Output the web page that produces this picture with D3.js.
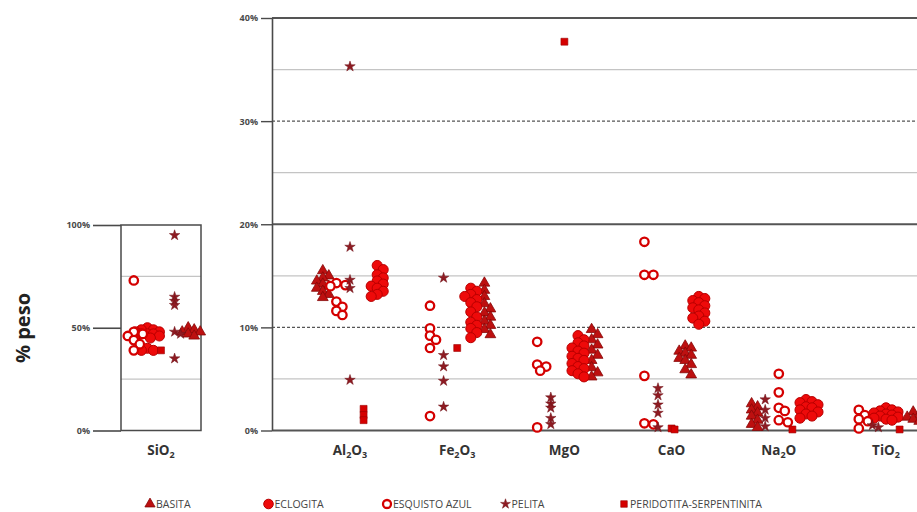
<!DOCTYPE html>
<html>
<head>
<meta charset="utf-8">
<script src="https://cdn.jsdelivr.net/npm/d3@7"></script>
<style>
  body { margin: 0; background: #fff; }
  svg { display: block; font-family: "Open Sans", sans-serif; }
</style>
</head>
<body>
<div id="chart"></div>
<script>
// --- DATA ---
const oxides = ["SiO2", "Al2O3", "Fe2O3", "MgO", "CaO", "Na2O", "TiO2"];
const rockTypes = ["BASITA", "ECLOGITA", "ESQUISTO AZUL", "PELITA", "PERIDOTITA-SERPENTINITA"];

// % peso per oxide (same order as oxides)
const basita = [
  [50, 49, 48, 48, 47, 46],
  [15.5, 15.0, 14.8, 14.5, 14.2, 14.0, 13.8, 13.5, 13.2, 12.9],
  [14.3, 13.6, 13.0, 12.3, 11.8, 11.4, 11.0, 10.6, 10.2, 9.8, 9.3],
  [9.8, 9.3, 8.8, 8.3, 7.8, 7.3, 6.8, 6.1, 5.6, 5.2],
  [8.2, 8.0, 7.7, 7.5, 7.3, 7.0, 6.8, 6.4, 5.9, 5.4],
  [2.6, 2.3, 2.0, 1.7, 1.4, 1.0, 0.6, 0.3],
  [1.8, 1.5, 1.3, 1.1, 0.9]
];
const eclogita = [
  [50, 49, 49, 48, 48, 47, 47, 47, 46, 46, 45, 40, 39, 39],
  [16.0, 15.6, 15.1, 14.8, 14.5, 14.2, 14.0, 13.8, 13.5, 13.2, 13.0],
  [13.8, 13.5, 13.2, 13.0, 12.7, 12.4, 12.0, 11.5, 11.0, 10.5, 10.2, 9.9, 9.5, 9.0],
  [9.2, 8.8, 8.5, 8.2, 8.0, 7.7, 7.5, 7.2, 7.0, 6.8, 6.5, 6.2, 6.0, 5.8, 5.5, 5.2],
  [13.0, 12.8, 12.6, 12.4, 12.1, 11.9, 11.7, 11.4, 11.1, 10.9, 10.6, 10.3],
  [3.0, 2.8, 2.7, 2.5, 2.3, 2.2, 2.0, 1.8, 1.6, 1.4, 1.2],
  [2.2, 2.0, 1.9, 1.8, 1.7, 1.6, 1.5, 1.4, 1.3, 1.2, 1.1, 1.0]
];
const esquistoAzul = [
  [73, 48, 47, 46, 44, 42, 39],
  [14.3, 14.0, 14.1, 12.5, 12.0, 11.6, 11.2],
  [12.1, 9.9, 9.2, 8.8, 8.0, 1.4],
  [8.6, 6.4, 6.2, 5.8, 0.3],
  [18.3, 15.1, 15.1, 5.3, 0.7, 0.6],
  [5.5, 3.7, 2.2, 1.9, 1.0, 0.8],
  [2.0, 1.5, 1.1, 0.9, 0.2]
];
const pelita = [
  [95, 65, 63, 61, 48, 47, 35],
  [35.3, 17.8, 14.6, 13.8, 4.9],
  [14.8, 7.3, 6.2, 4.8, 2.3],
  [3.2, 2.6, 2.2, 1.2, 0.6],
  [4.1, 3.4, 2.5, 1.7, 0.3],
  [3.0, 2.0, 1.2, 0.4],
  [0.5, 0.3]
];
const peridotita = [
  [39],
  [2.1, 1.5, 1.0],
  [8.0],
  [37.7],
  [0.2, 0.1],
  [0.1],
  [0.1]
];

// left-to-right order of the rock types inside each oxide column
const typeOrder = [
  ["ESQUISTO AZUL", "ECLOGITA", "PERIDOTITA-SERPENTINITA", "PELITA", "BASITA"],
  ["BASITA", "ESQUISTO AZUL", "PELITA", "PERIDOTITA-SERPENTINITA", "ECLOGITA"],
  ["ESQUISTO AZUL", "PELITA", "PERIDOTITA-SERPENTINITA", "ECLOGITA", "BASITA"],
  ["ESQUISTO AZUL", "PELITA", "PERIDOTITA-SERPENTINITA", "ECLOGITA", "BASITA"],
  ["ESQUISTO AZUL", "PELITA", "PERIDOTITA-SERPENTINITA", "BASITA", "ECLOGITA"],
  ["BASITA", "PELITA", "ESQUISTO AZUL", "PERIDOTITA-SERPENTINITA", "ECLOGITA"],
  ["ESQUISTO AZUL", "PELITA", "ECLOGITA", "PERIDOTITA-SERPENTINITA", "BASITA"]
];

const leftTicks = [0, 50, 100];
const leftGrid = [25, 75];
const rightTicks = [0, 10, 20, 30, 40];
const rightGrid = [0, 5, 10, 15, 20, 25, 30, 35, 40];

const seriesValues = {
  "BASITA": basita,
  "ECLOGITA": eclogita,
  "ESQUISTO AZUL": esquistoAzul,
  "PELITA": pelita,
  "PERIDOTITA-SERPENTINITA": peridotita
};

// --- SETUP ---
const width = 917, height = 512;
const svg = d3.select("#chart").append("svg")
  .attr("width", width)
  .attr("height", height);

const yL = d3.scaleLinear().domain([0, 100]).range([430.5, 225]);
const yR = d3.scaleLinear().domain([0, 40]).range([430.5, 18]);
const xL = d3.scalePoint().domain(oxides.slice(0, 1)).range([121, 201]);
const xR = d3.scalePoint().domain(oxides.slice(1)).range([350, 886]);

const markerStyle = {
  "BASITA":                  { sym: d3.symbolTriangle, size: 50, fill: "#bd1010", stroke: "#850808", sw: 0.8, gap: 6 },
  "ECLOGITA":                { sym: d3.symbolCircle,   size: 80, fill: "#ee0a0a", stroke: "#b80000", sw: 1,   gap: 6 },
  "ESQUISTO AZUL":           { sym: d3.symbolCircle,   size: 56, fill: "#ffffff", stroke: "#d40000", sw: 2.3, gap: 6.5 },
  "PELITA":                  { sym: d3.symbolStar,     size: 34, fill: "#8e1b22", stroke: "#6e1016", sw: 0.5, gap: 4 },
  "PERIDOTITA-SERPENTINITA": { sym: d3.symbolSquare,   size: 48, fill: "#d50000", stroke: "#9a0000", sw: 0.6, gap: 2 }
};

// --- LEFT PANEL (SiO2) ---
const left = svg.append("g");
left.selectAll("line.grid")
  .data(leftGrid)
  .join("line")
  .attr("class", "grid")
  .attr("x1", 121).attr("x2", 201)
  .attr("y1", d => yL(d)).attr("y2", d => yL(d))
  .attr("stroke", "#c4c4c4").attr("stroke-width", 1.2);

const axL = left.append("g")
  .attr("transform", "translate(121,0)")
  .call(d3.axisLeft(yL).tickValues(leftTicks).tickSize(28).tickFormat(d => d + "%"));
axL.select(".domain").remove();
axL.selectAll(".tick line").attr("stroke", "#4a4a4a").attr("stroke-width", 1.6);
axL.selectAll(".tick text").attr("font-size", 9).attr("font-weight", 700).attr("fill", "#4a4a4a")
  .attr("font-family", "'Open Sans', sans-serif");

left.append("rect")
  .attr("x", 121).attr("y", yL(100))
  .attr("width", 80).attr("height", yL(0) - yL(100))
  .attr("fill", "none").attr("stroke", "#4a4a4a").attr("stroke-width", 1.5);

// --- RIGHT PANEL ---
const right = svg.append("g");
right.selectAll("line.grid")
  .data(rightGrid)
  .join("line")
  .attr("class", "grid")
  .attr("x1", 272).attr("x2", width)
  .attr("y1", d => yR(d)).attr("y2", d => yR(d))
  .attr("stroke", d => d % 10 === 0 ? "#555" : "#c4c4c4")
  .attr("stroke-width", d => d % 20 === 0 ? 2 : d % 10 === 0 ? 1.2 : 1.3)
  .attr("stroke-dasharray", d => (d % 10 === 0 && d % 20 !== 0) ? "3,2" : null);

const axR = right.append("g")
  .attr("transform", "translate(272,0)")
  .call(d3.axisLeft(yR).tickValues(rightTicks).tickSize(11).tickSizeOuter(0).tickFormat(d => d + "%"));
axR.select(".domain").attr("stroke", "#4a4a4a").attr("stroke-width", 1.6);
axR.selectAll(".tick line").attr("stroke", "#4a4a4a").attr("stroke-width", 1.4);
axR.selectAll(".tick text").attr("font-size", 9).attr("font-weight", 700).attr("fill", "#4a4a4a")
  .attr("font-family", "'Open Sans', sans-serif");

// --- CATEGORY LABELS ---
function chemLabel(sel, name) {
  const parts = name.match(/[A-Za-z]+|\d+/g);
  let inSub = false;
  parts.forEach(p => {
    const isNum = /\d/.test(p);
    const ts = sel.append("tspan").text(p);
    if (isNum) {
      ts.attr("font-size", 9).attr("dy", 3);
      inSub = true;
    } else if (inSub) {
      ts.attr("dy", -3);
      inSub = false;
    }
  });
}
const catPos = oxides.map((o, i) => i === 0 ? xL(o) : xR(o));
oxides.forEach((o, i) => {
  const t = svg.append("text")
    .attr("x", catPos[i]).attr("y", 455)
    .attr("text-anchor", "middle")
    .attr("font-size", 13.5).attr("font-weight", 700).attr("fill", "#333");
  chemLabel(t, o);
});

// y title
svg.append("text")
  .attr("transform", "translate(30,328) rotate(-90)")
  .attr("text-anchor", "middle")
  .attr("font-size", 20).attr("font-weight", 700).attr("fill", "#222")
  .text("% peso");

// --- POINTS ---
function swarm(vals, cx, yScale, gap) {
  const pts = vals.map(v => ({ v, y: yScale(v) })).sort((a, b) => a.y - b.y);
  const placed = [];
  const offsets = [0];
  for (let k = 1; k <= 4; k++) offsets.push(k * 3, -k * 3);
  pts.forEach(p => {
    let best = 0, bestD = -1;
    for (const dx of offsets) {
      const dmin = placed.length ? d3.min(placed, q => Math.hypot(q.x - (cx + dx), q.y - p.y)) : Infinity;
      if (dmin >= gap) { best = dx; break; }
      if (dmin > bestD) { bestD = dmin; best = dx; }
    }
    p.x = cx + best;
    placed.push(p);
  });
  return pts;
}

const points = [];
oxides.forEach((o, i) => {
  const cx = catPos[i];
  const yS = i === 0 ? yL : yR;
  const sub = d3.scaleBand().domain(typeOrder[i]).range([cx - 34, cx + 34]);
  rockTypes.forEach(t => {
    const vals = seriesValues[t][i];
    swarm(vals, sub(t) + sub.bandwidth() / 2, yS, markerStyle[t].gap)
      .forEach(p => points.push({ ...p, type: t }));
  });
});

const gPts = svg.append("g");
rockTypes.forEach(t => {
  const st = markerStyle[t];
  gPts.append("g").selectAll("path")
    .data(points.filter(p => p.type === t))
    .join("path")
    .attr("transform", d => `translate(${d.x},${d.y})`)
    .attr("d", d3.symbol().type(st.sym).size(st.size))
    .attr("fill", st.fill)
    .attr("stroke", st.stroke)
    .attr("stroke-width", st.sw);
});

// --- LEGEND ---
const xLeg = d3.scalePoint().domain(rockTypes).range([150, 624]);
const leg = svg.append("g").selectAll("g")
  .data(rockTypes)
  .join("g")
  .attr("transform", d => `translate(${xLeg(d)},504)`);
leg.append("path")
  .attr("d", d => d3.symbol().type(markerStyle[d].sym).size(markerStyle[d].size * 0.9)())
  .attr("fill", d => markerStyle[d].fill)
  .attr("stroke", d => markerStyle[d].stroke)
  .attr("stroke-width", d => markerStyle[d].sw);
leg.append("text")
  .attr("x", 6).attr("dy", "0.35em")
  .attr("font-size", 10.5).attr("fill", "#444")
  .text(d => d);
</script>
</body>
</html>
